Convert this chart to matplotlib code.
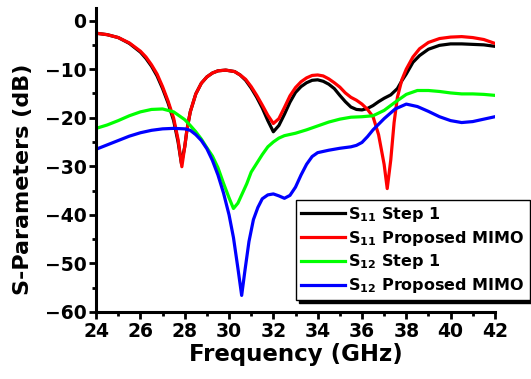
import numpy as np
import matplotlib
matplotlib.use("Agg")
import matplotlib.pyplot as plt
from matplotlib.ticker import MultipleLocator

plt.rcParams['font.family'] = ['DejaVu Sans']
plt.rcParams['font.weight'] = 'bold'
plt.rcParams['mathtext.fontset'] = 'dejavusans'

# S11 Step 1 (black)
f_s11_step1 = [24, 24.5, 25, 25.5, 26, 26.25, 26.5, 26.75, 27, 27.25, 27.5, 27.7, 27.85, 28.0, 28.1,
               28.25, 28.5, 28.75, 29, 29.25, 29.5, 29.85, 30.25, 30.5, 30.75, 31, 31.25, 31.5,
               31.75, 32.0, 32.25, 32.5, 32.75, 33.0, 33.25, 33.5, 33.75, 34.0, 34.25, 34.5,
               34.75, 35.0, 35.25, 35.5, 35.75, 36.0, 36.25, 36.5, 36.75, 37.0, 37.3, 37.6,
               37.8, 38.0, 38.3, 38.6, 39.0, 39.5, 40.0, 40.5, 41.0, 41.5, 42.0]
s11_step1 = [-2.6, -2.9, -3.5, -4.7, -6.5, -7.8, -9.4, -11.4, -14.0, -17.0, -20.6, -25.0, -29.4, -26.0, -22.5,
             -18.8, -15.1, -12.9, -11.6, -10.8, -10.35, -10.2, -10.5, -11.2, -12.3, -13.9, -15.8, -18.0,
             -20.6, -22.9, -21.6, -19.3, -16.8, -14.8, -13.6, -12.8, -12.3, -12.2, -12.5, -13.1,
             -14.0, -15.4, -16.7, -17.8, -18.3, -18.4, -18.1, -17.5, -16.7, -16.0, -15.3, -14.0,
             -12.4, -11.0, -8.6, -7.2, -5.9, -5.1, -4.8, -4.8, -4.9, -5.0, -5.3]

# S11 Proposed MIMO (red)
f_s11_mimo = [24, 24.5, 25, 25.5, 26, 26.25, 26.5, 26.75, 27, 27.25, 27.5, 27.7, 27.87, 28.0, 28.1,
              28.25, 28.5, 28.75, 29, 29.25, 29.5, 29.85, 30.25, 30.5, 30.75, 31, 31.25, 31.5,
              31.75, 32.0, 32.25, 32.5, 32.75, 33.0, 33.25, 33.5, 33.75, 34.0, 34.25, 34.5,
              34.75, 35.0, 35.25, 35.5, 35.75, 36.0, 36.25, 36.5, 36.75, 37.0, 37.14, 37.3,
              37.45, 37.6, 37.8, 38.0, 38.3, 38.6, 39.0, 39.5, 40.0, 40.5, 41.0, 41.5, 42.0]
s11_mimo = [-2.6, -2.9, -3.5, -4.6, -6.3, -7.5, -9.1, -11.0, -13.6, -16.6, -20.1, -24.5, -30.1, -26.0, -22.5,
            -18.8, -15.1, -12.9, -11.6, -10.8, -10.35, -10.2, -10.5, -11.2, -12.1, -13.6, -15.4, -17.4,
            -19.5, -21.2, -20.2, -17.9, -15.5, -13.8, -12.6, -11.8, -11.3, -11.2, -11.4, -12.0,
            -12.8, -13.7, -14.9, -15.8, -16.4, -17.2, -18.3, -19.8, -23.5, -29.6, -34.6, -28.7,
            -21.0, -15.8, -12.2, -10.0, -7.5, -5.8, -4.5, -3.7, -3.4, -3.3, -3.5, -3.9, -4.7]

# S12 Step 1 (green)
f_s12_step1 = [24, 24.5, 25, 25.5, 26, 26.5, 27, 27.5, 28, 28.25, 28.5, 28.75, 29, 29.25, 29.5,
               29.75, 30.0, 30.2, 30.4, 30.6, 30.8, 31.0, 31.25, 31.5, 31.75, 32.0, 32.25, 32.5,
               33.0, 33.5, 34.0, 34.5, 35.0, 35.5, 36.0, 36.5, 37.0, 37.5, 38.0, 38.5, 39.0,
               39.5, 40.0, 40.5, 41.0, 41.5, 42.0]
s12_step1 = [-22.2, -21.5, -20.6, -19.6, -18.8, -18.3, -18.2, -18.8, -20.4, -21.6, -22.9, -24.4, -26.2, -27.9, -30.3,
             -33.5, -36.5, -38.7, -37.6, -35.6, -33.6, -31.2, -29.4, -27.6, -26.0, -25.0, -24.2, -23.7,
             -23.2, -22.5, -21.7, -20.9, -20.3, -19.9, -19.8, -19.6, -18.5, -16.8, -15.2, -14.4, -14.4,
             -14.6, -14.9, -15.1, -15.1, -15.2, -15.4]

# S12 Proposed MIMO (blue)
f_s12_mimo = [24, 24.5, 25, 25.5, 26, 26.5, 27, 27.5, 28, 28.25, 28.5, 28.75, 29, 29.25, 29.5,
              29.75, 30.0, 30.2, 30.4, 30.57, 30.72, 30.9, 31.1, 31.3, 31.5, 31.75, 32.0, 32.25,
              32.5, 32.75, 33.0, 33.25, 33.5, 33.75, 34.0, 34.5, 35.0, 35.5, 35.75, 36.0, 36.25,
              36.5, 37.0, 37.5, 38.0, 38.5, 39.0, 39.5, 40.0, 40.5, 41.0, 41.5, 42.0]
s12_mimo = [-26.5, -25.6, -24.7, -23.8, -23.1, -22.6, -22.3, -22.2, -22.3, -22.6, -23.5, -24.7, -26.4, -28.8, -31.8,
            -35.5, -40.0, -44.7, -51.0, -56.6, -51.4, -45.5, -41.0, -38.5, -36.7, -35.9, -35.7, -36.1,
            -36.6, -36.0, -34.3, -31.8, -29.6, -28.0, -27.2, -26.7, -26.3, -26.0, -25.7, -25.1, -23.9,
            -22.5, -20.2, -18.2, -17.2, -17.7, -18.7, -19.8, -20.6, -21.0, -20.8, -20.3, -19.8]

series = [
    (f_s11_step1, s11_step1, 'black', r'$\mathbf{S_{11}}$ Step 1'),
    (f_s11_mimo, s11_mimo, 'red', r'$\mathbf{S_{11}}$ Proposed MIMO'),
    (f_s12_step1, s12_step1, '#00ff00', r'$\mathbf{S_{12}}$ Step 1'),
    (f_s12_mimo, s12_mimo, 'blue', r'$\mathbf{S_{12}}$ Proposed MIMO'),
]

fig = plt.figure(figsize=(5.31, 3.79), dpi=100)
ax = fig.add_axes([0.181, 0.177, 0.751, 0.802])

for x, y, c, lab in series:
    ax.plot(x, y, color=c, lw=2.3, label=lab)

ax.set_xlim(24, 42)
ax.set_ylim(-60, 2.6)
ax.xaxis.set_major_locator(MultipleLocator(2))
ax.xaxis.set_minor_locator(MultipleLocator(1))
ax.yaxis.set_major_locator(MultipleLocator(10))
ax.yaxis.set_minor_locator(MultipleLocator(5))

for side in ['top', 'right']:
    ax.spines[side].set_visible(False)
for side in ['left', 'bottom']:
    ax.spines[side].set_linewidth(2.2)

ax.tick_params(which='major', direction='out', length=5, width=2, labelsize=13.5, pad=2)
ax.tick_params(which='minor', direction='out', length=3, width=2)
for lbl in ax.get_xticklabels() + ax.get_yticklabels():
    lbl.set_fontweight('bold')

ax.set_xlabel('Frequency (GHz)', fontsize=16.5, fontweight='bold', labelpad=2)
ax.set_ylabel('S-Parameters (dB)', fontsize=16, fontweight='bold')
ax.yaxis.set_label_coords(-0.158, 0.435)

leg = ax.legend(loc='upper left', bbox_to_anchor=(0.557, 0.472), bbox_transform=fig.transFigure,
                borderaxespad=0, fontsize=11.5, frameon=True, fancybox=False,
                edgecolor='black', framealpha=1, handlelength=2.8, handletextpad=0.2,
                labelspacing=0.3, borderpad=0.3,
                shadow={'facecolor': 'black', 'edgecolor': 'black', 'alpha': 1})
leg.get_frame().set_linewidth(1.0)
for t in leg.get_texts():
    t.set_fontweight('bold')
for h in leg.get_lines():
    h.set_linewidth(2.3)

fig.savefig('out.png', dpi=100)
